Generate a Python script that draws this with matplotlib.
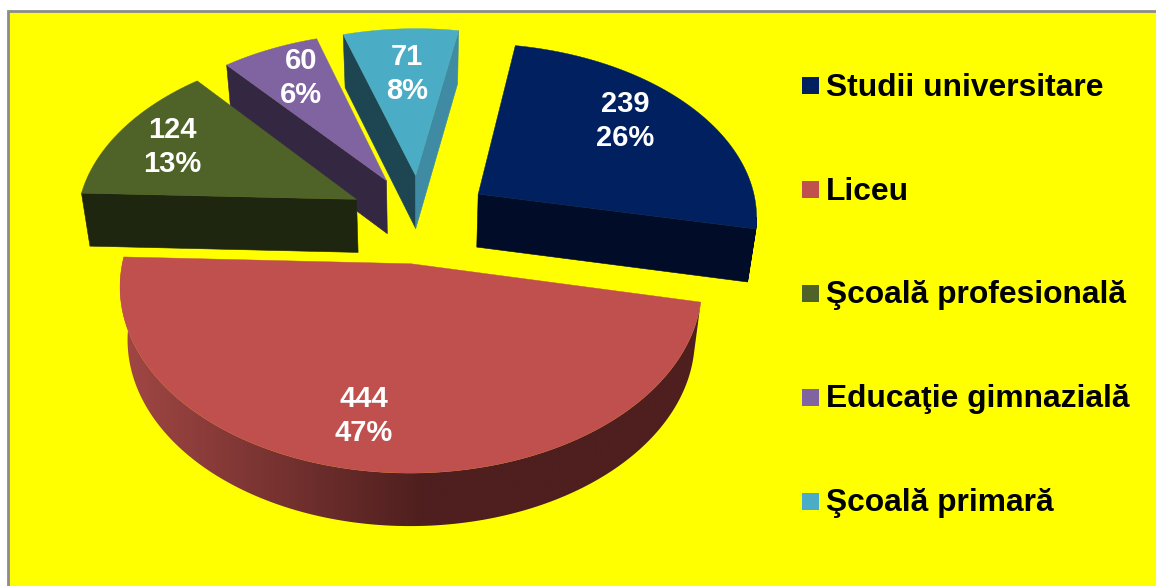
import numpy as np
import matplotlib
matplotlib.use('Agg')
import matplotlib.pyplot as plt
from matplotlib.patches import Polygon, Rectangle
from matplotlib.colors import LinearSegmentedColormap

# data
categories = ['Studii universitare', 'Liceu', 'Şcoală profesională', 'Educaţie gimnazială', 'Şcoală primară']
values = [239, 444, 124, 60, 71]
percents = ['26%', '47%', '13%', '6%', '8%']

top_colors = ['#002060', '#C0504D', '#4F6228', '#8064A2', '#4BACC6']
wall_colors = ['#000C28', '#4E1F1E', '#1F2610', '#342742', '#1E4552']
light_wall = '#3E8BA3'
label_pos = [(625, 121), (364, 416), (172, 147), (301, 78), (407, 74)]
legend_y = [85.5, 189.5, 293.5, 397.5, 501.5]
draw_order = [4, 3, 0, 2, 1]

# projection of the pie (pixels)
cx, cy = 420, 218.5
a, b = 286, 177
k = 0.119
radius = 0.98
explode = 0.25
rotation = 10
thick = 53
shrink = 0.975


def project(X, Y):
    w = 1 + k * Y
    return cx + a * X / w, cy - b * Y / w


def to_bottom(x, y):
    return cx + (x - cx) * shrink, y + thick


fig = plt.figure(figsize=(11.56, 5.86), dpi=100)
ax = fig.add_axes([0, 0, 1, 1])
ax.axis('off')
fig.patch.set_facecolor('white')
ax.add_patch(Rectangle((8, 11), 1160, 590, fc='#FFFF00', ec='#8C8C8C', lw=2))

# gradient for the side of the big slice, lighter on the left, flat after the middle
grad_cmap = LinearSegmentedColormap.from_list('side', [(0, '#A34845'), (0.52, '#4E1F1E'), (1, '#4E1F1E')])

fr = np.cumsum([0] + values) / sum(values) * 360 + rotation
for i in draw_order:
    t0, t1 = fr[i], fr[i + 1]
    mid = np.radians((t0 + t1) / 2)
    ox, oy = explode * np.sin(mid), explode * np.cos(mid)
    th = np.radians(np.linspace(t0, t1, int(t1 - t0) + 2))
    X = np.concatenate([[ox], ox + radius * np.sin(th), [ox]])
    Y = np.concatenate([[oy], oy + radius * np.cos(th), [oy]])
    px, py = project(X, Y)
    if i == 1:
        rx, ry = px[1:-1], py[1:-1]
        bx, by = to_bottom(rx, ry)
        wall = Polygon(np.column_stack([np.r_[rx, bx[::-1]], np.r_[ry, by[::-1]]]), closed=True,
                       transform=ax.transData, fc='none', ec='none')
        ax.add_patch(wall)
        img = ax.imshow(np.linspace(0, 1, 512).reshape(1, -1), cmap=grad_cmap, extent=(115, 710, 560, 250),
                        aspect='auto', zorder=1)
        img.set_clip_path(wall)
    else:
        # walls: only edges that run right to left on screen face the viewer
        for j in range(len(px) - 1):
            if px[j + 1] >= px[j]:
                continue
            bx0, by0 = to_bottom(px[j], py[j])
            bx1, by1 = to_bottom(px[j + 1], py[j + 1])
            quad = [(px[j], py[j]), (px[j + 1], py[j + 1]), (bx1, by1), (bx0, by0)]
            col = light_wall if (i == 4 and j == len(px) - 2) else wall_colors[i]
            ax.add_patch(Polygon(quad, closed=True, fc=col, ec=col, lw=0.4, zorder=1))
    ax.add_patch(Polygon(np.column_stack([px, py]), closed=True, fc=top_colors[i], ec=top_colors[i], lw=0.3, zorder=2))
    ax.text(label_pos[i][0], label_pos[i][1], '%d\n%s' % (values[i], percents[i]), color='white',
            fontsize=21, fontweight='bold', family='Liberation Sans', ha='center', va='center', linespacing=1.27, zorder=5)

for i, name in enumerate(categories):
    ax.add_patch(Rectangle((802, legend_y[i] - 8.5), 17, 17, fc=top_colors[i], ec='none'))
    ax.text(826, legend_y[i] + 2, name, color='black', fontsize=22.9, fontweight='bold',
            family='Liberation Sans', ha='left', va='center')

ax.set_xlim(0, 1156)
ax.set_ylim(586, 0)
fig.savefig('out.png', dpi=100, facecolor='white')
